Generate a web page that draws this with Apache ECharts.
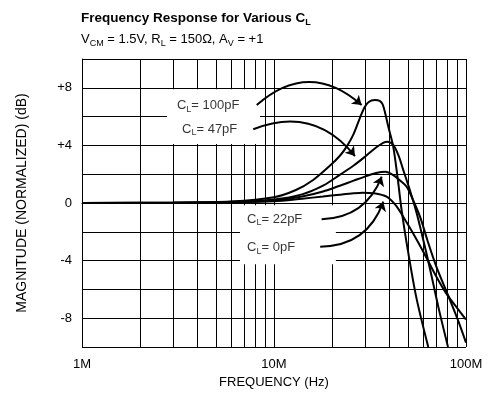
<!DOCTYPE html>
<html>
<head>
<meta charset="utf-8">
<script src="https://cdn.jsdelivr.net/npm/echarts@6/dist/echarts.min.js"></script>
<style>
  html, body { margin: 0; padding: 0; background: #fff; }
  #main { width: 488px; height: 404px; }
</style>
</head>
<body>
<div id="main"></div>
<script>
// frequency in MHz, magnitude in dB
var cl100Freq = [1, 3, 6, 10, 13, 16, 19.6, 22.1, 24, 26, 28, 29.5, 31, 33.5, 35.5, 36.8, 38, 39.4, 41.8, 44, 46.2, 49.1, 55, 63.6];
var cl100Mag  = [0, 0.02, 0.1, 0.4, 0.9, 1.6, 2.6, 3.3, 3.95, 4.8, 5.9, 6.6, 7.0, 7.15, 7.1, 6.85, 6.2, 5.3, 3.9, 1.8, -0.5, -2.8, -6.5, -10];

var cl47Freq = [1, 3, 6, 10, 14, 18, 22, 26, 30, 34, 37, 39, 41.8, 44.5, 47.1, 51, 55.3, 60, 65, 72, 80.6];
var cl47Mag  = [0, 0.02, 0.08, 0.25, 0.6, 1.2, 1.95, 2.6, 3.25, 3.85, 4.18, 4.26, 4.03, 3.3, 2.3, 0.9, -0.7, -2.6, -4.6, -7.3, -10];

var cl22Freq = [1, 3, 6, 10, 14, 18, 22, 26, 30, 34, 38, 41.8, 45, 49.1, 53, 57.6, 63, 70, 80, 90, 100];
var cl22Mag  = [0, 0.02, 0.06, 0.18, 0.45, 0.8, 1.2, 1.55, 1.85, 2.08, 2.17, 1.94, 1.6, 1.13, 0.2, -0.95, -2.6, -4.4, -6.3, -8.0, -9.7];

var cl0Freq = [1, 3, 6, 10, 14, 18, 22, 26, 29, 33, 38.6, 43, 47.1, 53, 60, 70, 80, 90, 100];
var cl0Mag  = [0, 0.02, 0.05, 0.12, 0.3, 0.45, 0.58, 0.68, 0.72, 0.68, 0.44, -0.15, -0.95, -2.1, -3.4, -5.1, -6.4, -7.3, -8.1];

var minorFreqs = [2, 3, 4, 5, 6, 7, 8, 9, 20, 30, 40, 50, 60, 70, 80, 90];
var magTicks = [-8, -4, 0, 4, 8];

var FONT = "'Liberation Sans', Arial, sans-serif";
var subStyle = { fontSize: 9, fontFamily: FONT, color: '#000', verticalAlign: 'bottom', lineHeight: 9 };

function pairs(fr, mag) {
    return fr.map(function (f, i) { return [f, mag[i]]; });
}

function curve(name, fr, mag) {
    return {
        name: name,
        type: 'line',
        data: pairs(fr, mag),
        smooth: 0.3,
        symbol: 'none',
        z: 3,
        lineStyle: { color: '#000', width: 2 }
    };
}

function callout(from, to, curv) {
    return { coords: [from, to], lineStyle: { curveness: curv } };
}

var chart = echarts.init(document.getElementById('main'));
chart.setOption({
    animation: false,
    title: {
        left: 76,
        top: 4,
        itemGap: 3,
        text: 'Frequency Response for Various C{s|L}',
        textStyle: {
            fontFamily: FONT, fontSize: 13.5, fontWeight: 'bold', color: '#000', lineHeight: 18,
            rich: { s: { fontSize: 9, fontWeight: 'bold', fontFamily: FONT, color: '#000', verticalAlign: 'bottom', lineHeight: 9 } }
        },
        subtext: 'V{s|CM} = 1.5V, R{s|L} = 150\u03A9, A{s|V} = +1',
        subtextStyle: {
            fontFamily: FONT, fontSize: 13, color: '#000', lineHeight: 18,
            rich: { s: subStyle }
        }
    },
    grid: { left: 82, right: 22, top: 59, bottom: 57 },
    xAxis: {
        type: 'log',
        logBase: 10,
        min: 1,
        max: 100,
        name: 'FREQUENCY (Hz)',
        nameLocation: 'middle',
        nameGap: 29,
        nameTextStyle: { fontFamily: FONT, fontSize: 13, color: '#000' },
        axisLine: { lineStyle: { color: '#000', width: 1 } },
        axisTick: { show: false },
        axisLabel: {
            margin: 11,
            fontFamily: FONT, fontSize: 13, color: '#000',
            formatter: function (v) { return v + 'M'; }
        },
        splitLine: { show: true, lineStyle: { color: '#000', width: 1 } }
    },
    yAxis: {
        type: 'value',
        min: -10,
        max: 10,
        interval: 2,
        name: 'MAGNITUDE (NORMALIZED) (dB)',
        nameLocation: 'middle',
        nameGap: 53,
        nameTextStyle: { fontFamily: FONT, fontSize: 14, color: '#000' },
        axisLine: { show: true, lineStyle: { color: '#000', width: 1 } },
        axisTick: { show: false },
        axisLabel: {
            margin: 10,
            fontFamily: FONT, fontSize: 13, color: '#000',
            formatter: function (v) {
                if (magTicks.indexOf(v) < 0) return '';
                return v > 0 ? '+' + v : String(v);
            }
        },
        splitLine: { show: true, lineStyle: { color: '#000', width: 1 } }
    },
    series: [
        {
            // minor log grid and white boxes behind the labels
            type: 'line',
            data: [],
            silent: true,
            markLine: {
                z: 1,
                silent: true,
                symbol: ['none', 'none'],
                label: { show: false },
                lineStyle: { color: '#000', width: 1, type: 'solid' },
                data: minorFreqs.map(function (f) { return { xAxis: f }; })
            },
            markArea: {
                z: 2,
                silent: true,
                itemStyle: { color: '#fff' },
                data: [
                    [{ coord: [2.77, 7.9] }, { coord: [8.45, 4.1] }],
                    [{ coord: [6.65, -0.15] }, { coord: [21.0, -4.25] }]
                ]
            }
        },
        curve('CL = 100pF', cl100Freq, cl100Mag),
        curve('CL = 47pF', cl47Freq, cl47Mag),
        curve('CL = 22pF', cl22Freq, cl22Mag),
        curve('CL = 0pF', cl0Freq, cl0Mag),
        {
            // labels
            type: 'scatter',
            z: 4,
            symbolSize: 0,
            silent: true,
            data: [
                [3.12, 6.8, 'C{s|L}= 100pF'],
                [3.32, 5.14, 'C{s|L}= 47pF'],
                [7.24, -1.11, 'C{s|L}= 22pF'],
                [7.24, -3.06, 'C{s|L}= 0pF']
            ],
            label: {
                show: true,
                position: 'inside',
                align: 'left',
                fontFamily: FONT, fontSize: 13, color: '#000', lineHeight: 17,
                formatter: function (p) { return p.data[2]; },
                rich: { s: subStyle }
            }
        },
        {
            // callout arrows
            type: 'lines',
            coordinateSystem: 'cartesian2d',
            z: 4,
            silent: true,
            symbol: ['none', 'arrow'],
            symbolSize: [8, 9],
            lineStyle: { color: '#000', width: 2, opacity: 1 },
            data: [
                callout([8.13, 6.8], [28.6, 6.8], 0.44),
                callout([7.8, 5.12], [26.4, 3.26], 0.37),
                callout([17.7, -1.13], [36.4, 1.83], -0.33),
                callout([17.4, -3.03], [37.1, 0.09], -0.35)
            ]
        }
    ]
});
</script>
</body>
</html>
